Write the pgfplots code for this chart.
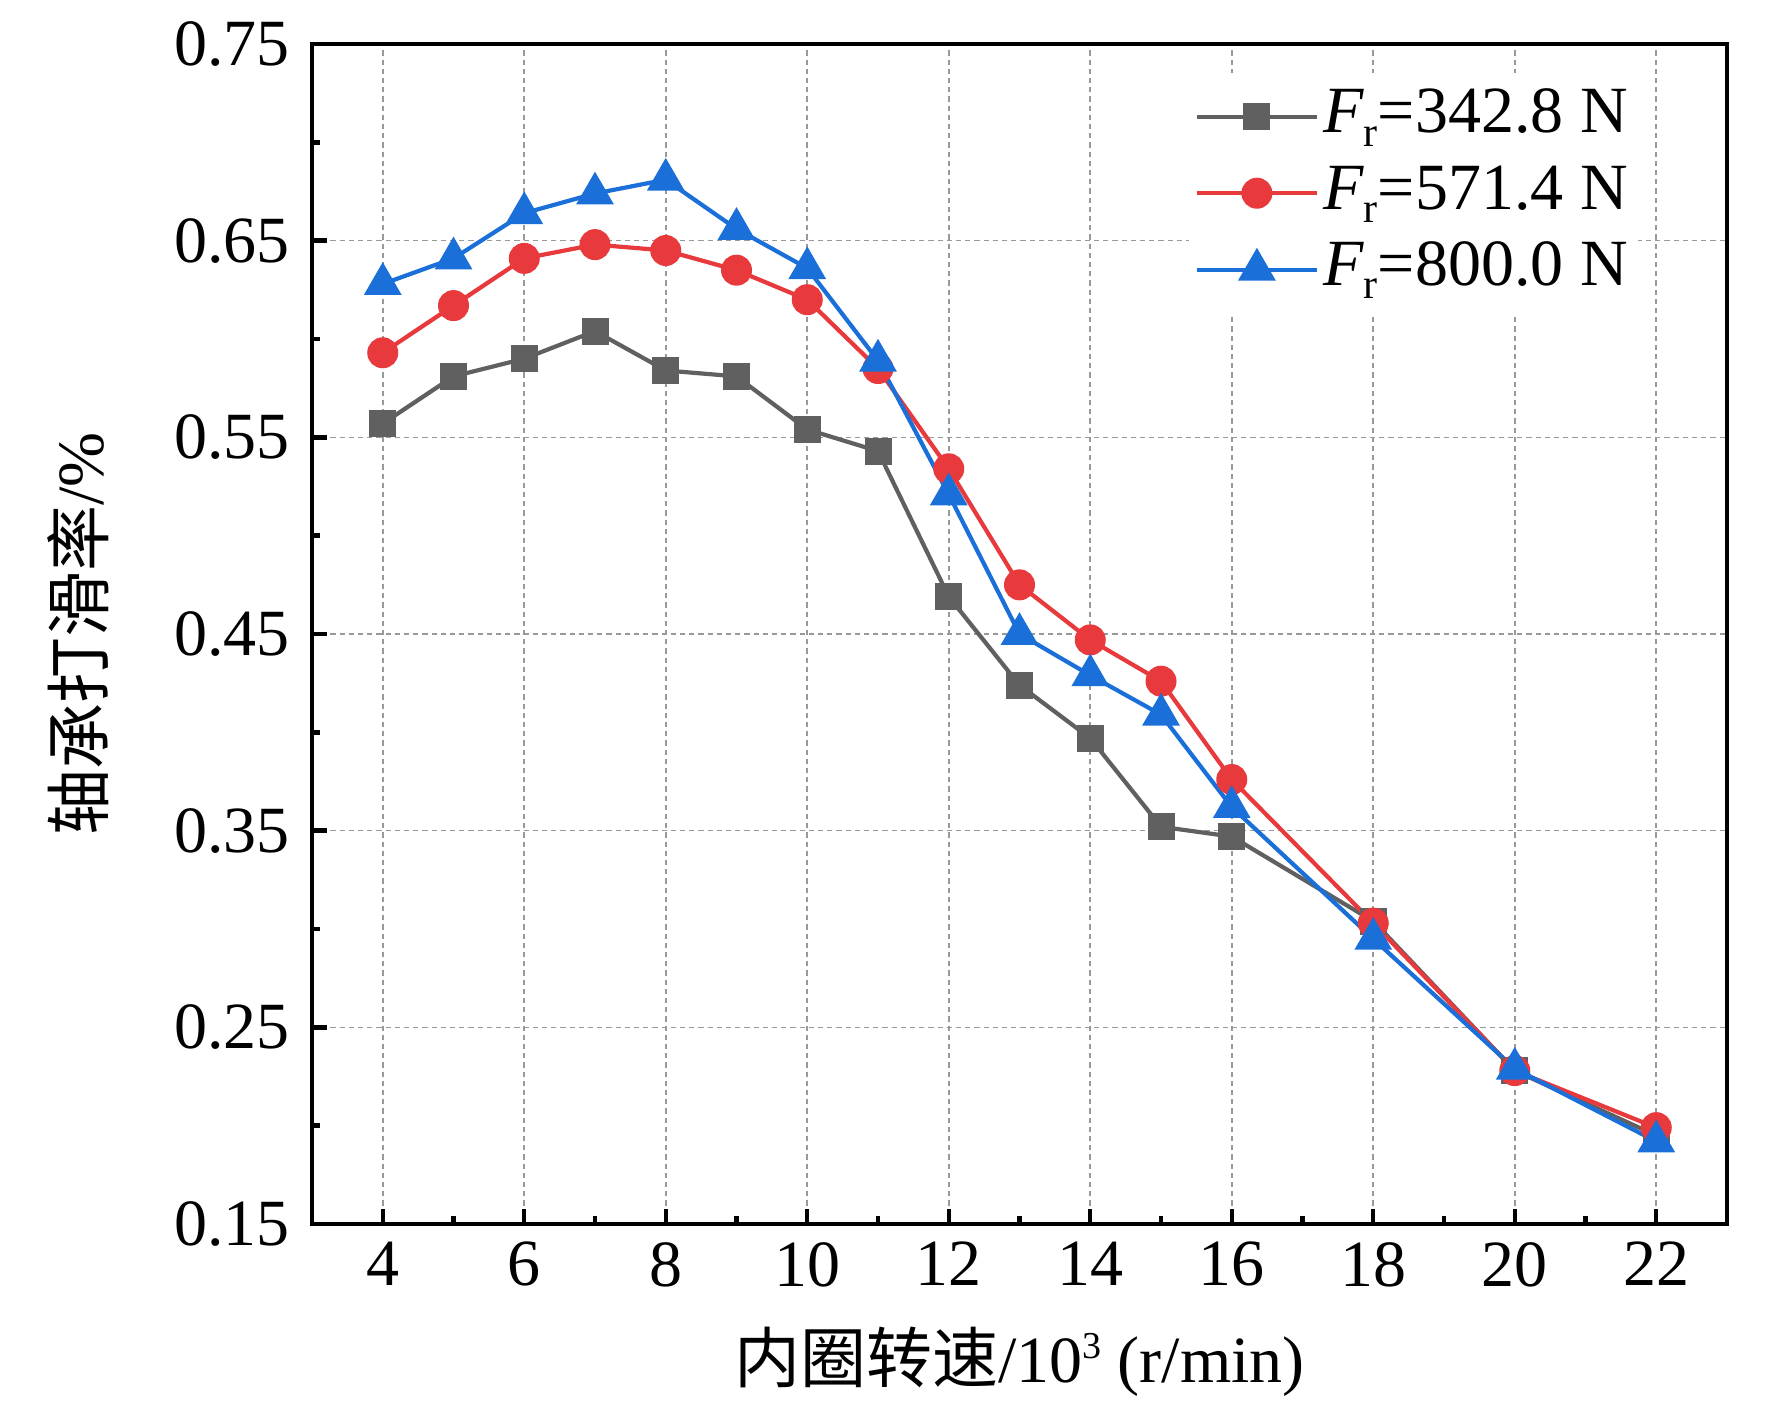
\documentclass[border=0pt]{standalone}
\usepackage{fontspec}
\setmainfont{Liberation Serif}
\newfontfamily\cjk{Noto Sans CJK SC}
\usepackage{pgfplots}
\pgfplotsset{compat=1.18}
\definecolor{cgray}{HTML}{606060}
\definecolor{cred}{HTML}{E8393C}
\definecolor{cblue}{HTML}{1B6FD9}
\newcommand{\Fr}{\textit{F}\raisebox{-3.3pt}{\fontsize{10.5}{10}\selectfont r}}
\begin{document}
\begin{tikzpicture}
\useasboundingbox (-78pt,-44.75pt) rectangle (365pt,306pt);
\begin{axis}[
  scale only axis, width=353.75pt, height=295pt,
  xmin=3, xmax=23, ymin=0.15, ymax=0.75,
  xtick={4,6,8,10,12,14,16,18,20,22},
  minor xtick={5,7,9,11,13,15,17,19,21},
  ytick={0.15,0.25,0.35,0.45,0.55,0.65,0.75},
  minor ytick={0.2,0.3,0.4,0.5,0.6,0.7},
  yticklabel style={/pgf/number format/fixed, /pgf/number format/fixed zerofill, /pgf/number format/precision=2, /tikz/xshift=-2pt},
  /pgf/number format/assume math mode=true,
  tick align=inside, tick pos=left,
  major tick length=3.75pt, minor tick length=2pt,
  every tick/.style={black, line width=1.1pt},
  axis line style={line width=1.2pt},
  grid=major,
  major grid style={black!40, line width=0.4pt, dash pattern=on 1.3pt off 1pt},
  font=\fontsize{16.5}{19}\selectfont,
  xticklabel style={yshift=-1pt},
  xlabel={{\cjk 内圈转速}/10\raisebox{6pt}{\fontsize{9.5}{9}\selectfont 3} (r/min)},
  ylabel={{\cjk 轴承打滑率}/\%},
  xlabel style={at={([yshift=-34.5pt]axis description cs:0.5,0)}, anchor=center},
  ylabel style={at={([xshift=-58.5pt]axis description cs:0,0.5)}, anchor=center},
  legend cell align=left,
  legend style={at={([xshift=219pt,yshift=-7pt]rel axis cs:0,1)}, anchor=north west,
    draw=none, fill=white, inner xsep=1.5pt, inner ysep=3pt, row sep=3.1pt,
    nodes={inner sep=1pt, text height=11pt, text depth=3pt},
    font=\fontsize{16.5}{19}\selectfont},
  legend image code/.code={\draw[mark repeat=2,mark phase=2] plot coordinates {(0pt,0pt) (15pt,0pt) (30pt,0pt)};},
]
\addplot[cgray, line width=1.05pt, mark=square*, mark size=2.85pt, mark options={solid, fill=cgray}] coordinates {
(4,0.557) (5,0.581) (6,0.590) (7,0.604) (8,0.584) (9,0.581) (10,0.554) (11,0.543)
(12,0.469) (13,0.424) (14,0.397) (15,0.352) (16,0.347) (18,0.304) (20,0.228) (22,0.195)};
\addlegendentry{\Fr=342.8 N}
\addplot[cred, line width=1.05pt, mark=*, mark size=3.35pt, mark options={solid, fill=cred}] coordinates {
(4,0.593) (5,0.617) (6,0.641) (7,0.648) (8,0.645) (9,0.635) (10,0.620) (11,0.585)
(12,0.534) (13,0.475) (14,0.447) (15,0.426) (16,0.376) (18,0.303) (20,0.228) (22,0.199)};
\addlegendentry{\Fr=571.4 N}
\addplot[cblue, line width=1.05pt, mark=triangle*, mark size=4.4pt, mark options={solid, fill=cblue}] coordinates {
(4,0.628) (5,0.641) (6,0.664) (7,0.674) (8,0.681) (9,0.656) (10,0.636) (11,0.589)
(12,0.521) (13,0.450) (14,0.429) (15,0.409) (16,0.362) (18,0.295) (20,0.229) (22,0.192)};
\addlegendentry{\Fr=800.0 N}
\end{axis}
\end{tikzpicture}
\end{document}
